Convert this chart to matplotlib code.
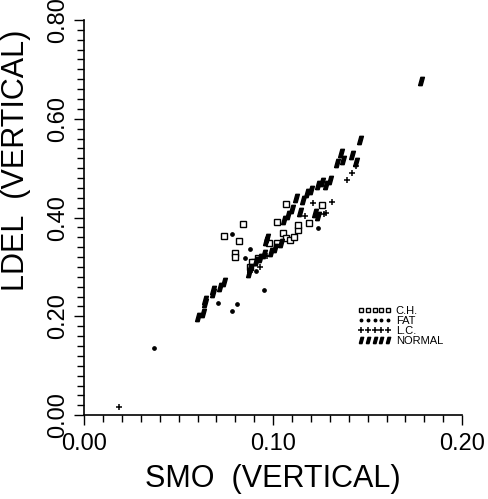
import numpy as np
import matplotlib
matplotlib.use("Agg")
import matplotlib.pyplot as plt
from matplotlib.ticker import MultipleLocator, FormatStrFormatter

plt.rcParams["font.family"] = ["Liberation Sans", "DejaVu Sans"]

# ---- data (SMO, LDEL) ----
ch_x = [0.084, 0.074, 0.082, 0.080, 0.080, 0.102, 0.098, 0.102, 0.090, 0.088,
        0.092, 0.107, 0.126, 0.119, 0.105, 0.107, 0.109, 0.111, 0.113, 0.113, 0.089]
ch_y = [0.387, 0.362, 0.352, 0.328, 0.320, 0.391, 0.348, 0.348, 0.310, 0.300,
        0.318, 0.427, 0.425, 0.389, 0.368, 0.358, 0.354, 0.360, 0.374, 0.385, 0.310]

fat_x = [0.037, 0.071, 0.078, 0.081, 0.095, 0.088, 0.085, 0.078, 0.124, 0.091, 0.100]
fat_y = [0.136, 0.227, 0.211, 0.225, 0.253, 0.336, 0.318, 0.366, 0.379, 0.292, 0.335]

lc_x = [0.0185, 0.088, 0.093, 0.128, 0.142, 0.139, 0.121, 0.131, 0.127, 0.117, 0.144, 0.097]
lc_y = [0.016, 0.289, 0.300, 0.409, 0.490, 0.476, 0.429, 0.431, 0.407, 0.404, 0.505, 0.322]

nor_x = [0.060, 0.063, 0.064, 0.064, 0.068, 0.068, 0.072, 0.074, 0.087, 0.088,
         0.091, 0.093, 0.095, 0.096, 0.097, 0.099, 0.101, 0.104, 0.106, 0.108,
         0.110, 0.112, 0.114, 0.116, 0.118, 0.120, 0.122, 0.124, 0.124, 0.126,
         0.128, 0.130, 0.134, 0.136, 0.137, 0.142, 0.144, 0.146, 0.178]
nor_y = [0.198, 0.206, 0.227, 0.233, 0.247, 0.253, 0.259, 0.269, 0.287, 0.298,
         0.312, 0.318, 0.326, 0.352, 0.358, 0.330, 0.338, 0.348, 0.395, 0.405,
         0.418, 0.439, 0.412, 0.435, 0.450, 0.455, 0.409, 0.404, 0.466, 0.472,
         0.466, 0.476, 0.510, 0.530, 0.516, 0.526, 0.512, 0.557, 0.676]

labels = ["C.H.", "FAT", "L.C.", "NORMAL"]

# slanted filled parallelogram for NORMAL
slash = [(-0.7, -1), (0.15, -1), (0.7, 1), (-0.15, 1), (-0.7, -1)]

fig = plt.figure(figsize=(4.89, 4.99), dpi=100)
ax = fig.add_axes([0.172, 0.168, 0.773, 0.792])

ax.plot(ch_x, ch_y, "s", ms=4, mfc="white", mec="black", mew=1.0, ls="none", label=labels[0])
ax.plot(fat_x, fat_y, "o", ms=2.4, color="black", ls="none", label=labels[1])
ax.plot(lc_x, lc_y, "+", ms=5, mew=1.1, color="black", ls="none", label=labels[2])
ax.plot(nor_x, nor_y, marker=slash, ms=6, color="black", ls="none", label=labels[3])

ax.set_xlim(0, 0.20)
ax.set_ylim(0, 0.80)
for s in ("top", "right"):
    ax.spines[s].set_visible(False)
for s in ("left", "bottom"):
    ax.spines[s].set_linewidth(1.2)

ax.xaxis.set_major_locator(MultipleLocator(0.10))
ax.xaxis.set_minor_locator(MultipleLocator(0.01))
ax.yaxis.set_major_locator(MultipleLocator(0.20))
ax.yaxis.set_minor_locator(MultipleLocator(0.02))
ax.xaxis.set_major_formatter(FormatStrFormatter("%.2f"))
ax.yaxis.set_major_formatter(FormatStrFormatter("%.2f"))
ax.tick_params(which="major", direction="out", length=7, width=1.0)
ax.tick_params(which="minor", direction="out", length=5, width=1.0)
ax.tick_params(axis="x", which="major", labelsize=17, pad=6)
ax.tick_params(axis="y", which="major", labelsize=17, pad=4)
for t in ax.get_yticklabels():
    t.set_rotation(90)
    t.set_va("center")

ax.set_xlabel("SMO  (VERTICAL)", fontsize=22, labelpad=6)
ax.set_ylabel("LDEL  (VERTICAL)", fontsize=22)
ax.yaxis.set_label_coords(-0.14, 0.645)

ax.legend(loc="upper left", bbox_to_anchor=(0.71, 0.29), frameon=False, numpoints=5,
          fontsize=8, markerscale=0.75, handlelength=3.0, handletextpad=0.4,
          labelspacing=0.0, borderpad=0.0)

fig.savefig("out.png", dpi=100, facecolor="white")
